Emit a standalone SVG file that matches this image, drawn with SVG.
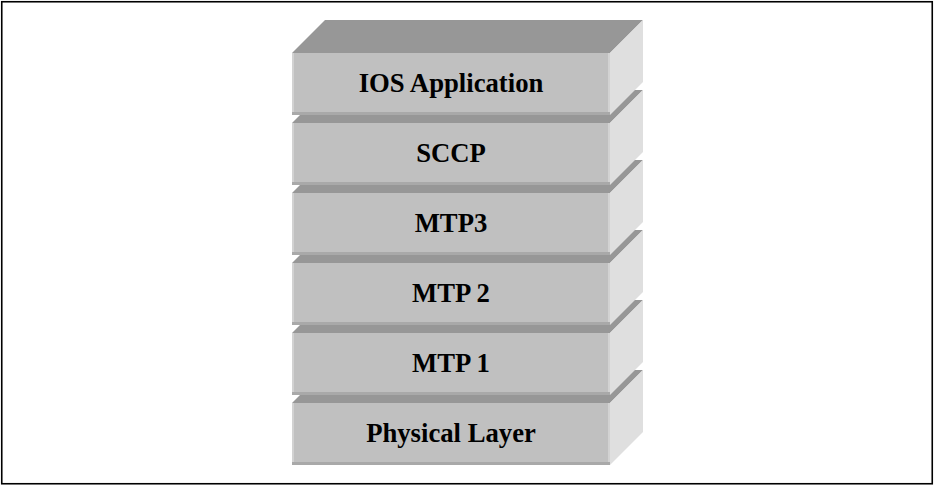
<svg xmlns="http://www.w3.org/2000/svg" width="935" height="486" viewBox="0 0 935 486">
<style>
.front{fill:#c0c0c0}
.top{fill:#979797}
.side{fill:#dfdfdf}
.hl{fill:#d2d2d2}
.sh{fill:#a9a9a9}
.lbl{font-family:"Liberation Serif","Times New Roman",serif;font-weight:bold;font-size:26.7px;fill:#000;text-anchor:middle}
</style>
<rect x="1.75" y="1.75" width="930.5" height="482" fill="#fff" stroke="#000" stroke-width="1.6"/>
<defs>
<g id="box">
<polygon class="top" points="292,0 610,0 643,-33 325,-33"/>
<polygon class="side" points="610,0 643,-33 643,29 610,62"/>
<rect class="front" x="292" y="0" width="318" height="62"/>
<rect class="hl" x="292" y="0" width="2" height="62"/>
<rect class="hl" x="608" y="0" width="2" height="62"/>
<rect class="sh" x="292" y="59" width="318" height="3"/>
</g>
</defs>
<g id="physical-layer">
<use href="#box" y="403"/>
<text class="lbl" x="451" y="442">Physical Layer</text>
</g>
<g id="mtp1">
<use href="#box" y="333"/>
<text class="lbl" x="451" y="372">MTP 1</text>
</g>
<g id="mtp2">
<use href="#box" y="263"/>
<text class="lbl" x="451" y="302">MTP 2</text>
</g>
<g id="mtp3">
<use href="#box" y="193"/>
<text class="lbl" x="451" y="232">MTP3</text>
</g>
<g id="sccp">
<use href="#box" y="123"/>
<text class="lbl" x="451" y="162">SCCP</text>
</g>
<g id="ios-application">
<use href="#box" y="53"/>
<text class="lbl" x="451" y="92">IOS Application</text>
</g>
<g id="connectors"></g>
</svg>
